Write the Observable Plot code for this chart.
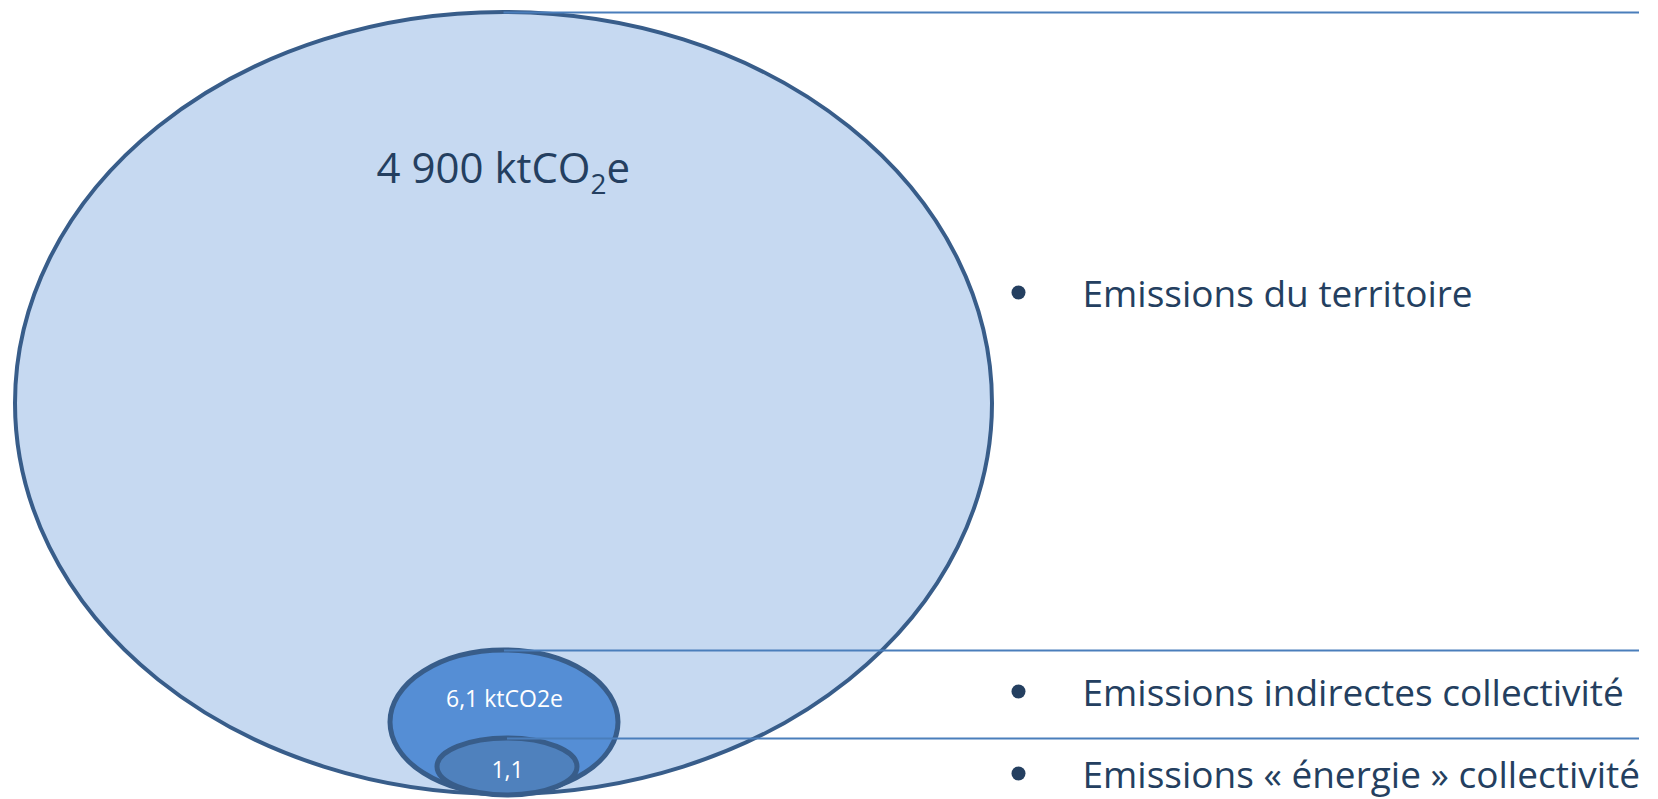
<!DOCTYPE html>
<html>
<head>
<meta charset="utf-8">
<script src="https://cdn.jsdelivr.net/npm/d3@7"></script>
<script src="https://cdn.jsdelivr.net/npm/@observablehq/plot@0.6"></script>
<style>
  html, body { margin: 0; padding: 0; background: #fff; }
  #chart svg { display: block; }
</style>
</head>
<body>
<div id="chart"></div>
<script>
// Emission scopes, from the whole territory down to the local authority's energy use
const categories = [
  "Emissions du territoire",
  "Emissions indirectes collectivité",
  "Emissions « énergie » collectivité"
];
const values = [4900, 6.1, 1.1];          // ktCO2e
const units = ["ktCO2e", "ktCO2e", ""];

// French number formatting: "4 900", "6,1"
const frLocale = d3.formatLocale({decimal: ",", thousands: " ", grouping: [3], currency: ["", " €"]});
const fmt = frLocale.format(",");
const valueLabels = values.map((v, i) => units[i] ? `${fmt(v)} ${units[i]}` : fmt(v));

// Schematic frame (not to scale): nested ellipses, bullets and legend rows
const W = 1658, H = 799;
const ellipseBox = [               // x1, x2, y1, y2 in frame units
  [15, 992, 12, 794],
  [390, 618, 650, 794],
  [437, 577, 738, 795]
];
const ellipseFill = ["#C6D9F1", "#558ED5", "#4F81BD"];
const ellipseStrokeWidth = [4, 5, 5];
const rowY = [292, 691, 773];      // legend row centres
const connectorEnd = 1639;
const bulletX = 1018, textX = 1082;
const navy = "#243F60";

const shapes = categories.map((c, i) => ({
  category: c,
  value: values[i],
  label: valueLabels[i],
  x1: ellipseBox[i][0], x2: ellipseBox[i][1],
  y1: ellipseBox[i][2], y2: ellipseBox[i][3],
  cx: (ellipseBox[i][0] + ellipseBox[i][1]) / 2,
  rowY: rowY[i]
}));

const labelPos = [
  {x: 376, y: 182, anchor: "start", size: 42, fill: navy},
  {x: 504, y: 706, anchor: "middle", size: 23, fill: "#fff"},
  {x: 507, y: 777, anchor: "middle", size: 23, fill: "#fff"}
];

const font = "'Open Sans', Lato, sans-serif";

const marks = [];
shapes.forEach((d, i) => {
  marks.push(Plot.rect([d], {
    x1: "x1", x2: "x2", y1: "y1", y2: "y2",
    fill: ellipseFill[i], stroke: "#385D8A", strokeWidth: ellipseStrokeWidth[i]
  }));
});

// connectors from the top of each ellipse to the right edge
marks.push(Plot.ruleY(shapes, {
  y: "y1", x1: "cx", x2: () => connectorEnd,
  stroke: "#4A7EBB", strokeWidth: 2
}));

// legend bullets and category names
marks.push(Plot.dot(shapes, {
  x: () => bulletX, y: "rowY", r: 7, fill: navy, stroke: null
}));
marks.push(Plot.text(shapes, {
  x: () => textX, y: d => d.rowY + 14, text: "category",
  textAnchor: "start", lineAnchor: "bottom",
  fontSize: 37, fontFamily: font, fill: navy
}));

// value labels inside the ellipses
shapes.forEach((d, i) => {
  const p = labelPos[i];
  marks.push(Plot.text([d], {
    x: () => p.x, y: () => p.y, text: "label",
    textAnchor: p.anchor, lineAnchor: "bottom",
    fontSize: p.size, fontFamily: font, fill: p.fill
  }));
});

const chart = Plot.plot({
  width: W, height: H, margin: 0,
  x: {domain: [0, W], range: [0, W], axis: null},
  y: {domain: [0, H], range: [0, H], axis: null},
  style: {background: "#fff", overflow: "hidden"},
  marks
});

// round each rect fully into an ellipse
chart.querySelectorAll('g[aria-label="rect"] rect').forEach(r => {
  r.setAttribute("rx", +r.getAttribute("width") / 2);
  r.setAttribute("ry", +r.getAttribute("height") / 2);
});

// subscript the 2 in CO2 on the territory total
chart.querySelectorAll("text").forEach(t => {
  const s = t.textContent;
  if (s !== valueLabels[0]) return;
  const k = s.lastIndexOf("CO2");
  if (k < 0) return;
  t.textContent = "";
  const ns = "http://www.w3.org/2000/svg";
  const a = document.createElementNS(ns, "tspan");
  a.textContent = s.slice(0, k + 2);
  const b = document.createElementNS(ns, "tspan");
  b.textContent = "2";
  b.setAttribute("font-size", "28");
  b.setAttribute("dy", "11");
  const c = document.createElementNS(ns, "tspan");
  c.textContent = s.slice(k + 3);
  c.setAttribute("dy", "-11");
  t.append(a, b, c);
});

document.getElementById("chart").append(chart);
</script>
</body>
</html>
